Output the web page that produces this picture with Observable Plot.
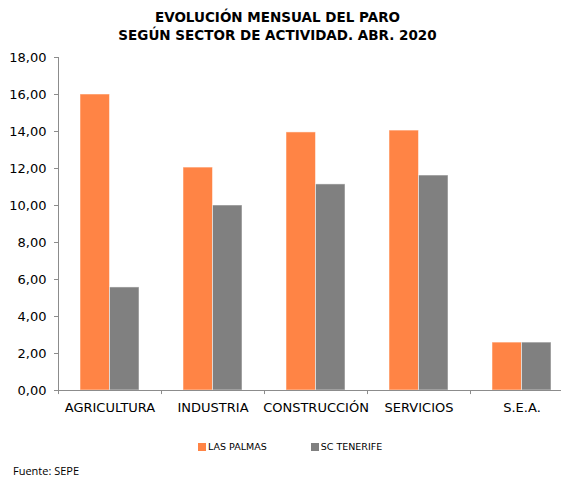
<!DOCTYPE html>
<html><head><meta charset="utf-8">
<script src="https://cdn.jsdelivr.net/npm/d3@7"></script>
<script src="https://cdn.jsdelivr.net/npm/@observablehq/plot@0.6"></script>
<style>
body{margin:0;background:#fff;}
#wrap{position:relative;width:561px;height:477px;overflow:hidden;font-family:"DejaVu Sans",Verdana,sans-serif;color:#000;}
#title{position:absolute;top:8px;left:-3px;width:561px;text-align:center;font-weight:bold;font-size:13.5px;line-height:18px;}
#chart{position:absolute;top:45px;left:0;}
#legend{position:absolute;top:441px;left:198px;font-size:9.5px;display:flex;}
.item{display:flex;align-items:center;margin-right:44px;}
.sw{width:8px;height:8px;margin-right:2px;}
#caption{position:absolute;top:465px;left:13px;font-family:"Open Sans",sans-serif;font-size:11px;line-height:11px;}
</style></head>
<body>
<div id="wrap">
  <div id="title"></div>
  <div id="chart"></div>
  <div id="legend"></div>
  <div id="caption"></div>
</div>
<script>
const titleLines = ["EVOLUCIÓN MENSUAL DEL PARO", "SEGÚN SECTOR DE ACTIVIDAD. ABR. 2020"];
const categories = ["AGRICULTURA", "INDUSTRIA", "CONSTRUCCIÓN", "SERVICIOS", "S.E.A."];
const series = ["LAS PALMAS", "SC TENERIFE"];
const lasPalmas = [16.00, 12.05, 13.95, 14.05, 2.59];
const scTenerife = [5.57, 10.00, 11.14, 11.62, 2.59];
const yTicks = [0, 2, 4, 6, 8, 10, 12, 14, 16, 18];
const colors = ["#FF8445", "#808080"];
const caption = "Fuente: SEPE";

document.getElementById("title").innerHTML = titleLines.join("<br>");
document.getElementById("caption").textContent = caption;
const leg = document.getElementById("legend");
series.forEach((s, i) => {
  const it = document.createElement("div"); it.className = "item";
  const sw = document.createElement("div"); sw.className = "sw"; sw.style.background = colors[i];
  const t = document.createElement("span"); t.textContent = s;
  it.appendChild(sw); it.appendChild(t); leg.appendChild(it);
});

const dataLP = categories.map((c, i) => ({cat: c, serie: series[0], v: lasPalmas[i]}));
const dataSC = categories.map((c, i) => ({cat: c, serie: series[1], v: scTenerife[i]}));
const axisColor = "#8c8c8c";

const chart = Plot.plot({
  width: 561, height: 380,
  marginLeft: 58, marginRight: -12, marginTop: 12, marginBottom: 35,
  style: {fontFamily: "DejaVu Sans, Verdana, sans-serif", fontSize: "13px", color: "#000", background: "transparent"},
  x: {domain: categories, padding: 0, label: null},
  y: {domain: [0, 18], label: null},
  color: {domain: series, range: colors},
  marks: [
    Plot.barY(dataLP, {x: "cat", y: "v", fill: "serie", insetLeft: 22, insetRight: 51.5, stroke: "#ffffff", strokeOpacity: 0.5, strokeWidth: 1}),
    Plot.barY(dataSC, {x: "cat", y: "v", fill: "serie", insetLeft: 51.5, insetRight: 22, stroke: "#ffffff", strokeOpacity: 0.5, strokeWidth: 1}),
    Plot.frame({anchor: "left", stroke: axisColor}),
    Plot.ruleY([0], {stroke: axisColor}),
    Plot.ruleX(categories, {x: d => d, dx: -51.5, y1: 0, y2: -0.22, stroke: axisColor}),
    Plot.axisY({ticks: yTicks, tickFormat: d => d.toFixed(2).replace(".", ","), tickSize: 4, tickPadding: 8, stroke: axisColor, fontSize: 13}),
    Plot.axisX({tickSize: 0, tickPadding: 12, fontSize: 13})
  ]
});
document.getElementById("chart").appendChild(chart);
</script>
</body></html>
